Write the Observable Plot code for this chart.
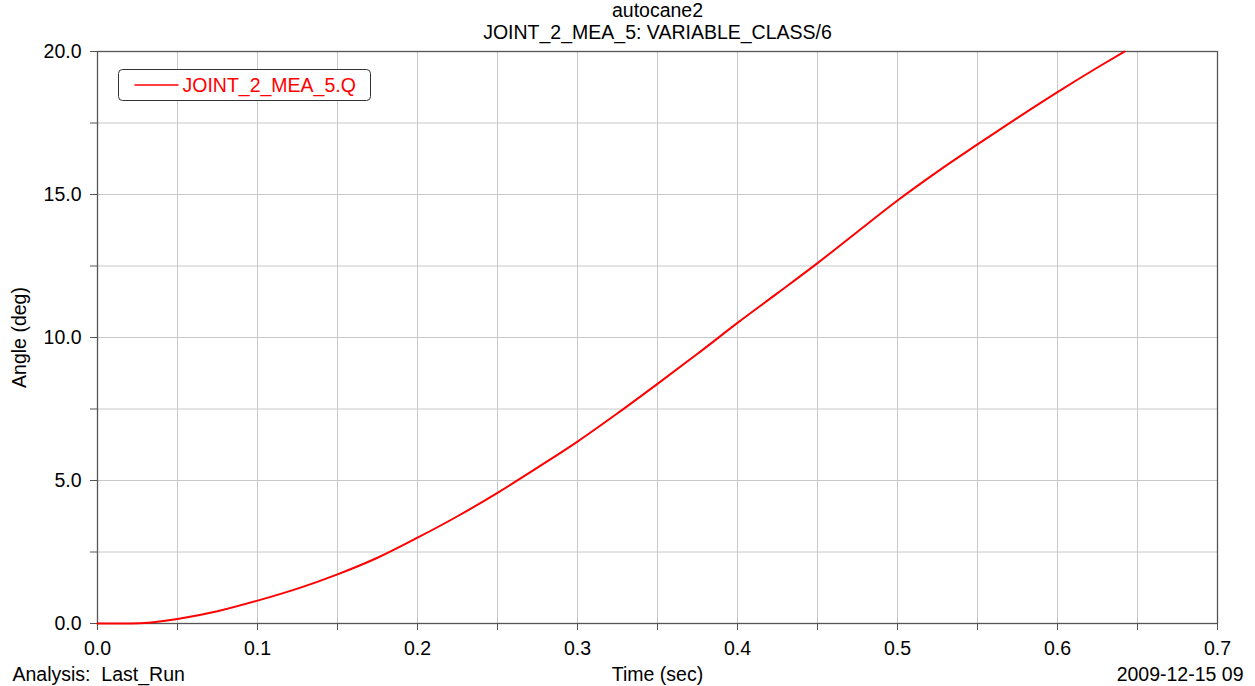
<!DOCTYPE html>
<html>
<head>
<meta charset="utf-8">
<script src="https://cdn.jsdelivr.net/npm/d3@7"></script>
<script src="https://cdn.jsdelivr.net/npm/@observablehq/plot@0.6"></script>
<style>
  html, body { margin: 0; padding: 0; background: #fff; }
  #chart svg { display: block; }
</style>
</head>
<body>
<div id="chart"></div>
<script>
const titleLines = ["autocane2", "JOINT_2_MEA_5: VARIABLE_CLASS/6"];
const seriesName = "JOINT_2_MEA_5.Q";
const xLabel = "Time (sec)";
const yLabel = "Angle (deg)";
const footLeft = "Analysis:\u00a0\u00a0Last_Run";
const footRight = "2009-12-15 09";

const time = [0, 0.015, 0.027, 0.04, 0.05, 0.075, 0.1, 0.125, 0.15, 0.175, 0.2, 0.225, 0.25, 0.275, 0.3, 0.325, 0.35, 0.375, 0.4, 0.425, 0.45, 0.475, 0.5, 0.525, 0.55, 0.575, 0.6, 0.625, 0.642];
const angle = [0, 0, 0.01, 0.08, 0.16, 0.43, 0.80, 1.22, 1.72, 2.30, 3.00, 3.75, 4.57, 5.45, 6.36, 7.35, 8.38, 9.43, 10.51, 11.55, 12.60, 13.70, 14.79, 15.80, 16.75, 17.68, 18.58, 19.44, 20.0];

const xTicks = [0, 0.1, 0.2, 0.3, 0.4, 0.5, 0.6, 0.7];
const xMinor = [0.05, 0.15, 0.25, 0.35, 0.45, 0.55, 0.65];
const yTicks = [0, 5, 10, 15, 20];
const yMinor = [2.5, 7.5, 12.5, 17.5];
const xGrid = [0.05, 0.1, 0.15, 0.2, 0.25, 0.3, 0.35, 0.4, 0.45, 0.5, 0.55, 0.6, 0.65];
const yGrid = [2.5, 5, 7.5, 10, 12.5, 15, 17.5];

const data = time.map((t, i) => ({t, v: angle[i]}));

const FONT = "'Liberation Sans', Arial, sans-serif";
const FS = 19.5;
const frameColor = "#555";
const gridColor = "#c8c8c8";

const chart = Plot.plot({
  width: 1255,
  height: 686,
  marginLeft: 97,
  marginRight: 38,
  marginTop: 51,
  marginBottom: 63,
  style: {fontFamily: FONT, fontSize: FS + "px", color: "#000", background: "#fff", overflow: "visible"},
  x: {domain: [0, 0.7]},
  y: {domain: [0, 20]},
  marks: [
    Plot.gridX(xGrid, {stroke: gridColor, strokeOpacity: 1, strokeWidth: 1}),
    Plot.gridY(yGrid, {stroke: gridColor, strokeOpacity: 1, strokeWidth: 1}),
    Plot.axisX(xTicks, {tickSize: 7, tickPadding: 11, tickFormat: d3.format(".1f"), stroke: frameColor, fill: "#000", label: null, fontSize: FS}),
    Plot.axisX(xMinor, {tickSize: 7, tickFormat: () => "", stroke: frameColor, label: null}),
    Plot.axisY(yTicks, {tickSize: 7, tickPadding: 9, tickFormat: d3.format(".1f"), stroke: frameColor, fill: "#000", label: null, fontSize: FS}),
    Plot.axisY(yMinor, {tickSize: 7, tickFormat: () => "", stroke: frameColor, label: null}),
    Plot.frame({stroke: frameColor, strokeWidth: 1.3}),
    Plot.line(data, {x: "t", y: "v", stroke: "#ff0000", strokeWidth: 2, curve: "monotone-x"}),
    Plot.text([titleLines[0]], {frameAnchor: "top", dy: -41, lineAnchor: "middle", textAnchor: "middle", fontSize: FS, fill: "#000"}),
    Plot.text([titleLines[1]], {frameAnchor: "top", dy: -19, lineAnchor: "middle", textAnchor: "middle", fontSize: FS, fill: "#000"}),
    Plot.text([xLabel], {frameAnchor: "bottom", dy: 51, lineAnchor: "middle", textAnchor: "middle", fontSize: FS, fill: "#000"}),
    Plot.text([yLabel], {frameAnchor: "left", dx: -78, rotate: -90, lineAnchor: "middle", textAnchor: "middle", fontSize: FS, fill: "#000"}),
    Plot.text([footLeft], {frameAnchor: "bottom-left", dx: -85, dy: 51, lineAnchor: "middle", textAnchor: "start", fontSize: FS, fill: "#000"}),
    Plot.text([footRight], {frameAnchor: "bottom-right", dx: 26, dy: 51, lineAnchor: "middle", textAnchor: "end", fontSize: FS, fill: "#000"})
  ]
});

// Legend box drawn inside the plot frame
const svg = d3.select(chart);
const lg = svg.append("g").attr("transform", "translate(118.5,69.5)");
lg.append("rect").attr("width", 252).attr("height", 31).attr("rx", 4)
  .attr("fill", "#fff").attr("stroke", "#333").attr("stroke-width", 1);
lg.append("line").attr("x1", 16).attr("x2", 60).attr("y1", 15.5).attr("y2", 15.5)
  .attr("stroke", "#ff0000").attr("stroke-width", 1.6);
lg.append("text").attr("x", 64).attr("y", 15.5).attr("dy", "0.35em")
  .attr("text-anchor", "start")
  .attr("fill", "#ff0000").attr("font-family", FONT).attr("font-size", FS).text(seriesName);

document.getElementById("chart").appendChild(chart);
</script>
</body>
</html>
